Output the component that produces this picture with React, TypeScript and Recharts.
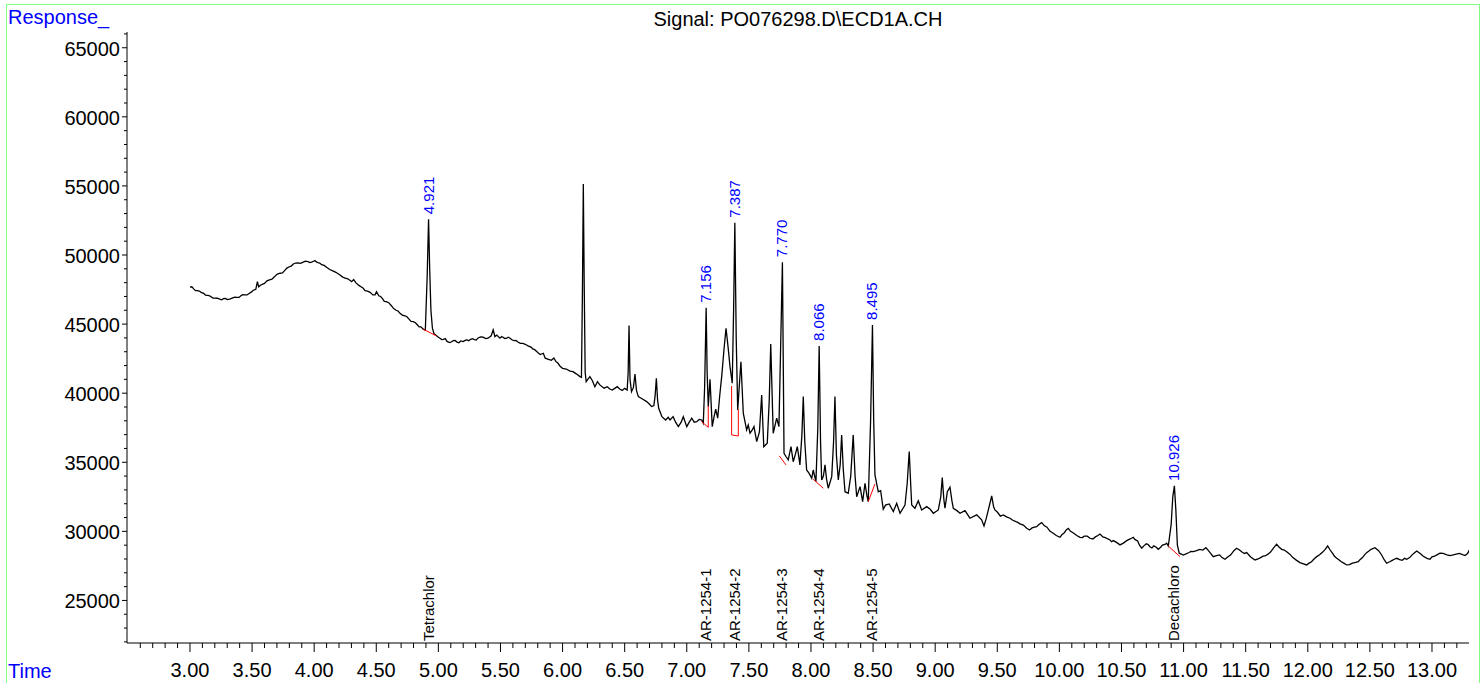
import React from "react";
import { LineChart, Line, XAxis, YAxis, ReferenceLine, ReferenceDot } from "recharts";

const FONT = '"Liberation Sans", Arial, Helvetica, sans-serif';

// ECD1A trace: [time (min), response]
const signal: [number, number][] = [
  [3.0, 47670], [3.03, 47550], [3.06, 47420], [3.09, 47300], [3.11, 47230], [3.14, 47080],
  [3.17, 46980], [3.2, 46880], [3.24, 46800], [3.27, 46840], [3.3, 46780], [3.34, 46880],
  [3.376, 46940], [3.41, 47050], [3.44, 47120], [3.479, 47230], [3.51, 47450], [3.53, 47520],
  [3.543, 48070], [3.553, 47700], [3.57, 47830], [3.6, 47950], [3.64, 48200], [3.68, 48420],
  [3.725, 48680], [3.76, 48850], [3.8, 49150], [3.832, 49350], [3.87, 49430], [3.912, 49480],
  [3.95, 49520], [3.98, 49480], [4.006, 49600], [4.03, 49450], [4.06, 49300], [4.1, 49110],
  [4.15, 48850], [4.208, 48560], [4.25, 48330], [4.29, 48150], [4.302, 48070], [4.318, 48220],
  [4.335, 48000], [4.36, 47800], [4.395, 47590], [4.43, 47380], [4.473, 47110], [4.502, 47350],
  [4.52, 47050], [4.55, 46850], [4.58, 46620], [4.62, 46350], [4.66, 46000], [4.691, 45780],
  [4.73, 45600], [4.76, 45400], [4.798, 45180], [4.83, 44950], [4.86, 44800], [4.878, 44630],
  [4.895, 44560], [4.91, 48500], [4.921, 52590], [4.93, 49000], [4.94, 46000], [4.952, 44700],
  [4.965, 44300], [4.986, 44150], [5.013, 43980], [5.04, 43900], [5.07, 43750], [5.093, 43660],
  [5.12, 43800], [5.15, 43700], [5.18, 43780], [5.2, 43730], [5.23, 43850], [5.26, 43900],
  [5.29, 43880], [5.32, 44000], [5.361, 44050], [5.4, 43980], [5.425, 44150], [5.441, 44580],
  [5.455, 44100], [5.47, 44200], [5.496, 43980], [5.52, 44050], [5.55, 43980], [5.577, 43980],
  [5.61, 43800], [5.64, 43700], [5.68, 43600], [5.711, 43490], [5.738, 43370], [5.76, 43200],
  [5.792, 43010], [5.82, 42800], [5.845, 42890], [5.86, 42530], [5.886, 42450], [5.91, 42380],
  [5.93, 42550], [5.945, 42300], [5.96, 42200], [5.98, 41950], [6.0, 41800], [6.03, 41750],
  [6.06, 41600], [6.084, 41560], [6.11, 41400], [6.14, 41200], [6.152, 41150], [6.16, 47500],
  [6.167, 55140], [6.174, 48000], [6.182, 41500], [6.19, 40830], [6.2, 40960], [6.22, 41200],
  [6.24, 40900], [6.26, 40470], [6.281, 40830], [6.3, 40600], [6.334, 40360], [6.36, 40470],
  [6.38, 40300], [6.4, 40230], [6.42, 40350], [6.44, 40470], [6.46, 40300], [6.48, 40200],
  [6.5, 40350], [6.52, 40230], [6.528, 41500], [6.535, 44890], [6.543, 41000], [6.555, 40110],
  [6.57, 40400], [6.583, 41390], [6.595, 40200], [6.61, 39750], [6.64, 39600], [6.677, 39390],
  [6.7, 39200], [6.717, 39030], [6.735, 39100], [6.745, 39800], [6.755, 41080], [6.765, 39500],
  [6.774, 38910], [6.8, 38300], [6.83, 38060], [6.85, 38250], [6.865, 38060], [6.89, 38300],
  [6.91, 37900], [6.932, 37580], [6.955, 37900], [6.972, 38300], [7.0, 37580], [7.02, 37900],
  [7.04, 38190], [7.06, 37900], [7.08, 37940], [7.1, 38100], [7.12, 38060], [7.133, 37830],
  [7.144, 40500], [7.156, 46190], [7.164, 41500], [7.173, 39030], [7.187, 41010], [7.205, 37580],
  [7.22, 38300], [7.233, 38840], [7.249, 38190], [7.265, 39800], [7.281, 41200], [7.3, 43200],
  [7.316, 44700], [7.333, 43300], [7.348, 41920], [7.366, 40720], [7.377, 46000], [7.387, 52340],
  [7.398, 44000], [7.41, 38790], [7.436, 42280], [7.455, 38550], [7.482, 37340], [7.495, 37700],
  [7.509, 37100], [7.525, 37300], [7.541, 37580], [7.563, 36490], [7.585, 37200], [7.603, 39870],
  [7.62, 36130], [7.648, 36380], [7.664, 39500], [7.676, 43560], [7.69, 39000], [7.696, 37100],
  [7.724, 38190], [7.742, 37580], [7.755, 43000], [7.77, 49480], [7.783, 35650], [7.8, 35400],
  [7.817, 35170], [7.839, 36130], [7.857, 35040], [7.872, 35500], [7.89, 36130], [7.911, 34810],
  [7.927, 37000], [7.938, 39750], [7.95, 36500], [7.965, 34440], [7.985, 34200], [8.006, 33840],
  [8.018, 34440], [8.04, 33600], [8.055, 37500], [8.066, 43420], [8.077, 36500], [8.086, 33720],
  [8.1, 34000], [8.113, 34810], [8.125, 33800], [8.139, 33120], [8.167, 33960], [8.182, 36500],
  [8.193, 39750], [8.205, 35500], [8.22, 33720], [8.235, 34800], [8.247, 36980], [8.26, 34500],
  [8.274, 32870], [8.3, 32760], [8.32, 34000], [8.34, 36980], [8.355, 34000], [8.368, 32510],
  [8.395, 33240], [8.416, 32150], [8.435, 33480], [8.45, 32600], [8.461, 32150], [8.48, 38000],
  [8.495, 44940], [8.505, 38000], [8.515, 34080], [8.53, 33400], [8.542, 32870], [8.561, 32950],
  [8.582, 31600], [8.6, 31900], [8.63, 31980], [8.663, 31430], [8.69, 32030], [8.717, 31310],
  [8.757, 31910], [8.775, 33500], [8.791, 35770], [8.805, 33000], [8.811, 31910], [8.837, 31670],
  [8.864, 32220], [8.891, 31550], [8.932, 31790], [8.96, 31600], [8.985, 31310], [9.025, 31550],
  [9.045, 32500], [9.057, 33890], [9.07, 32300], [9.079, 31670], [9.098, 32870], [9.119, 33190],
  [9.135, 32200], [9.146, 31670], [9.175, 31500], [9.2, 31310], [9.24, 31500], [9.28, 30950],
  [9.334, 31190], [9.374, 30830], [9.393, 30390], [9.41, 30900], [9.428, 31550], [9.455, 32560],
  [9.47, 31800], [9.481, 31550], [9.548, 31190], [9.602, 30950], [9.65, 30700], [9.683, 30540],
  [9.737, 30220], [9.78, 30250], [9.817, 30340], [9.857, 30630], [9.9, 30300], [9.951, 29860],
  [10.005, 29570], [10.04, 29900], [10.072, 30220], [10.11, 29900], [10.166, 29570], [10.2, 29650],
  [10.246, 29500], [10.29, 29600], [10.327, 29810], [10.37, 29550], [10.407, 29380], [10.434, 29330],
  [10.488, 29020], [10.542, 29330], [10.595, 29570], [10.63, 29300], [10.663, 28780], [10.7, 29100],
  [10.729, 28890], [10.76, 28950], [10.796, 28700], [10.83, 29000], [10.864, 29140], [10.877, 28940],
  [10.9, 30500], [10.913, 32500], [10.926, 33290], [10.938, 31500], [10.95, 29000], [10.965, 28420],
  [10.998, 28290], [11.04, 28450], [11.078, 28530], [11.13, 28700], [11.18, 28820], [11.239, 28170],
  [11.29, 28300], [11.333, 27980], [11.38, 28300], [11.427, 28780], [11.47, 28500], [11.508, 28460],
  [11.575, 27930], [11.62, 28100], [11.655, 28220], [11.7, 28500], [11.749, 29070], [11.79, 28700],
  [11.83, 28530], [11.88, 28100], [11.937, 27740], [11.991, 27570], [12.03, 27800], [12.072, 28170],
  [12.12, 28500], [12.16, 28940], [12.2, 28400], [12.233, 28050], [12.27, 27800], [12.313, 27570],
  [12.36, 27700], [12.407, 27810], [12.44, 28100], [12.474, 28460], [12.541, 28820], [12.595, 28290],
  [12.635, 27690], [12.68, 27900], [12.716, 28050], [12.76, 27900], [12.796, 27980], [12.84, 28300],
  [12.877, 28580], [12.93, 28200], [12.984, 27980], [13.02, 28200], [13.064, 28420], [13.12, 28300],
  [13.171, 28290], [13.22, 28400], [13.252, 28290], [13.28, 28350], [13.3, 28650],
];

// detector noise picked up between the points above (flat stretches)
const noise: [number, number][] = [
  [3.015, 47700], [3.045, 47420], [3.075, 47390], [3.125, 47100], [3.155, 47060], [3.185, 46880],
  [3.22, 46870], [3.255, 46760], [3.285, 46860], [3.32, 46810], [3.36, 46950], [3.395, 46930],
  [3.425, 47130], [3.46, 47110], [3.495, 47330], [3.62, 48130], [3.66, 48250], [3.7, 48600],
  [3.745, 48700], [3.78, 49050], [3.815, 49200], [3.85, 49420], [3.89, 49400], [3.93, 49560],
  [3.965, 49450], [3.995, 49550], [4.018, 49500], [4.045, 49420], [4.08, 49250], [4.125, 48950],
  [4.175, 48750], [4.23, 48400], [4.27, 48280], [4.377, 47700], [4.41, 47420], [4.45, 47300],
  [4.49, 47120], [4.535, 47000], [4.565, 46650], [4.6, 46550], [4.64, 46120], [4.675, 45950],
  [4.71, 45650], [4.745, 45550], [4.78, 45200], [4.815, 45100], [4.845, 44800],
  [5.0, 44050], [5.027, 43880], [5.055, 43950], [5.082, 43700], [5.107, 43720], [5.135, 43820],
  [5.165, 43650], [5.215, 43820], [5.245, 43800], [5.275, 43950], [5.305, 43850], [5.34, 44080],
  [5.38, 43950], [5.51, 44100], [5.535, 43950], [5.563, 44050], [5.595, 43850], [5.625, 43820],
  [5.66, 43600], [5.695, 43550], [5.725, 43400], [5.75, 43300], [5.775, 43150], [5.805, 42900],
  [9.5, 31400], [9.525, 31100], [9.575, 31050], [9.625, 30800], [9.665, 30650], [9.71, 30450],
  [9.76, 30100], [9.8, 30300], [9.835, 30500], [9.88, 30400], [9.925, 30000], [9.975, 29700],
  [10.02, 29750], [10.055, 30100], [10.09, 30000], [10.14, 29700], [10.185, 29550], [10.225, 29650],
  [10.27, 29450], [10.31, 29700], [10.35, 29600], [10.39, 29450], [10.42, 29250], [10.46, 29200],
  [10.515, 29150], [10.57, 29450], [10.61, 29400], [10.645, 29000], [10.68, 28950], [10.715, 29050],
  [10.745, 28800], [10.78, 28850], [10.815, 28850], [10.85, 29050],
  [11.015, 28350], [11.06, 28550], [11.105, 28600], [11.155, 28650], [11.21, 28500], [11.265, 28250],
  [11.31, 28100], [11.355, 28150], [11.405, 28600], [11.45, 28650], [11.49, 28400], [11.54, 28150],
  [11.6, 28000], [11.64, 28200], [11.68, 28350], [11.725, 28800], [11.77, 28850], [11.81, 28650],
  [11.855, 28350], [11.91, 27900], [11.965, 27650], [12.01, 27700], [12.05, 28000], [12.095, 28300],
  [12.14, 28700], [12.18, 28650], [12.215, 28200], [12.25, 27950], [12.29, 27700], [12.335, 27600],
  [12.385, 27750], [12.42, 27950], [12.457, 28300], [12.51, 28700], [12.57, 28600], [12.615, 27950],
  [12.66, 27800], [12.7, 28000], [12.74, 27950], [12.78, 28050], [12.82, 28100], [12.86, 28450],
  [12.905, 28400], [12.96, 28050], [13.0, 28150], [13.04, 28300], [13.09, 28400], [13.145, 28250],
  [13.195, 28350], [13.236, 28350], [13.265, 28250], [13.29, 28450],
];

// labelled peaks (retention time, apex response)
const peakTimes = [4.921, 7.156, 7.387, 7.77, 8.066, 8.495, 10.926];
const peakHeights = [52590, 46190, 52340, 49480, 43420, 44940, 33290];
const peakLabels = ["4.921", "7.156", "7.387", "7.770", "8.066", "8.495", "10.926"];

const compoundNames = ["Tetrachlor", "AR-1254-1", "AR-1254-2", "AR-1254-3", "AR-1254-4", "AR-1254-5", "Decachloro"];

// integration baselines: [t1, v1, t2, v2]
const baselines: [number, number, number, number][] = [
  [4.878, 44630, 4.986, 44140],
  [7.12, 37940, 7.173, 37530],
  [7.173, 37530, 7.173, 39080],
  [7.361, 40520, 7.361, 36980],
  [7.361, 36980, 7.415, 36900],
  [7.415, 36900, 7.415, 38840],
  [7.745, 35460, 7.799, 34810],
  [8.018, 33770, 8.099, 33120],
  [8.461, 32150, 8.515, 33430],
  [10.877, 28940, 10.971, 28170],
];

const xLabels = ["3.00", "3.50", "4.00", "4.50", "5.00", "5.50", "6.00", "6.50", "7.00", "7.50", "8.00",
  "8.50", "9.00", "9.50", "10.00", "10.50", "11.00", "11.50", "12.00", "12.50", "13.00"];
const yLabels = ["25000", "30000", "35000", "40000", "45000", "50000", "55000", "60000", "65000"];

const X_DOMAIN: [number, number] = [2.493, 13.298];
const Y_DOMAIN: [number, number] = [21920, 66140];

const xTicks = Array.from({ length: 107 }, (_, i) => (26 + i) / 10);
const yTicks = Array.from({ length: 45 }, (_, i) => (22 + i) * 1000);

const rows = [...signal, ...noise]
  .sort((a, b) => a[0] - b[0])
  .map(([t, v]) => ({ t, v }));

function XTick(props: any) {
  const { x, y, payload } = props;
  const n = Math.round(payload.value * 10);
  const major = n % 5 === 0;
  const label = major ? xLabels[(n - 30) / 5] : undefined;
  return (
    <g>
      <line x1={x} y1={y} x2={x} y2={y + (major ? 9 : 5)} stroke="#000" />
      {label && (
        <text x={x} y={y + 34} textAnchor="middle" fontSize={20} fontFamily={FONT} fill="#000">
          {label}
        </text>
      )}
    </g>
  );
}

function YTick(props: any) {
  const { x, y, payload } = props;
  const k = Math.round(payload.value / 1000);
  const major = k % 5 === 0;
  const label = major ? yLabels[(k - 25) / 5] : undefined;
  return (
    <g>
      <line x1={x - (major ? 5 : 3)} y1={y} x2={x} y2={y} stroke="#000" />
      {label && (
        <text x={x - 7} y={y + 8} textAnchor="end" fontSize={20} fontFamily={FONT} fill="#000">
          {label}
        </text>
      )}
    </g>
  );
}

const peakTag = (text: string) => (p: any) => (
  <text
    transform={`translate(${p.cx + 5},${p.cy - 5}) rotate(-90)`}
    fontSize={15}
    fontFamily={FONT}
    fill="#0000ff"
  >
    {text}
  </text>
);

const nameTag = (text: string) => (p: any) => (
  <text
    transform={`translate(${p.cx + 5},${p.cy - 2}) rotate(-90)`}
    fontSize={15}
    fontFamily={FONT}
    fill="#000"
  >
    {text}
  </text>
);

export default function App() {
  return (
    <div style={{ position: "absolute", left: 0, top: 0, width: 1484, height: 683, background: "#fff", fontFamily: FONT }}>
      <LineChart width={1484} height={683} data={rows} margin={{ top: 32, right: 15, bottom: 0, left: 67 }}>
        <XAxis
          dataKey="t"
          type="number"
          domain={X_DOMAIN}
          allowDataOverflow
          ticks={xTicks}
          interval={0}
          tick={(p: any) => <XTick {...p} />}
          tickLine={false}
          tickSize={0}
          tickMargin={0}
          height={40}
          axisLine={{ stroke: "#000" }}
        />
        <YAxis
          type="number"
          domain={Y_DOMAIN}
          allowDataOverflow
          ticks={yTicks}
          interval={0}
          tick={(p: any) => <YTick {...p} />}
          tickLine={false}
          tickSize={0}
          tickMargin={0}
          width={60}
          axisLine={{ stroke: "#000" }}
        />
        <Line
          dataKey="v"
          type="linear"
          stroke="#000"
          strokeWidth={1.3}
          dot={false}
          activeDot={false}
          isAnimationActive={false}
        />
        {baselines.map(([t1, v1, t2, v2], i) => (
          <ReferenceLine
            key={`b${i}`}
            segment={[{ x: t1, y: v1 }, { x: t2, y: v2 }]}
            stroke="#ff0000"
            strokeWidth={1}
          />
        ))}
        {peakTimes.map((t, i) => (
          <ReferenceDot key={`p${i}`} x={t} y={peakHeights[i]} r={1} ifOverflow="visible" shape={peakTag(peakLabels[i])} />
        ))}
        {peakTimes.map((t, i) => (
          <ReferenceDot key={`c${i}`} x={t} y={Y_DOMAIN[0]} r={1} ifOverflow="visible" shape={nameTag(compoundNames[i])} />
        ))}
      </LineChart>
      <svg width={1484} height={683} style={{ position: "absolute", left: 0, top: 0, pointerEvents: "none" }}>
        <rect x={6.5} y={4.5} width={1473} height={700} fill="none" stroke="#80ff80" strokeWidth={1} />
        <text x={8} y={24} fontSize={20} fontFamily={FONT} fill="#0000ff">Response_</text>
        <text x={798} y={26} fontSize={20} fontFamily={FONT} fill="#000" textAnchor="middle">
          {"Signal: PO076298.D\\ECD1A.CH"}
        </text>
        <text x={8} y={678} fontSize={20} fontFamily={FONT} fill="#0000ff">Time</text>
      </svg>
    </div>
  );
}
